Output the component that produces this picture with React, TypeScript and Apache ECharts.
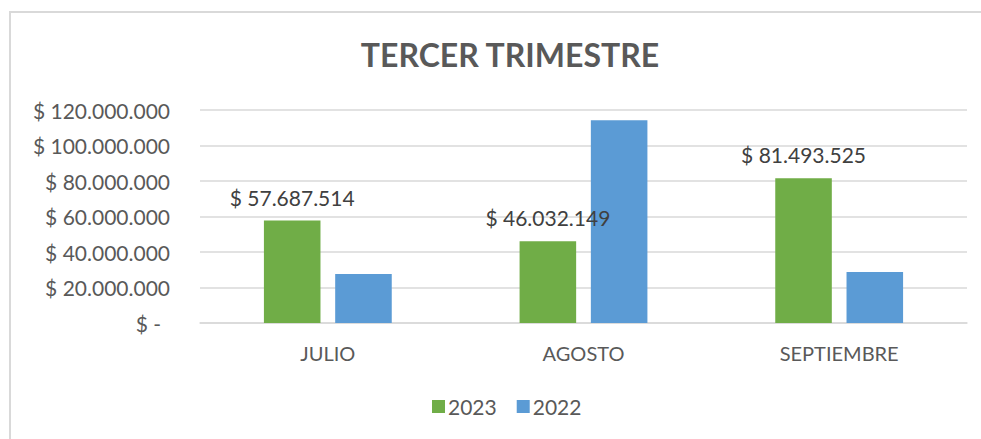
import React, { useEffect, useRef } from "react";
import * as echarts from "echarts";

const categories = ["JULIO", "AGOSTO", "SEPTIEMBRE"];
const values2023 = [57687514, 46032149, 81493525];
const values2022 = [27600000, 114200000, 28700000];
const seriesNames = ["2023", "2022"];

const FONT = "Lato, 'Open Sans', sans-serif";

function fmt(v: number): string {
  if (v === 0) return "{z|$ -}";
  const s = Math.round(v).toString().replace(/\B(?=(\d{3})+(?!\d))/g, ".");
  return "$ " + s;
}

export default function App() {
  const ref = useRef<HTMLDivElement>(null);
  useEffect(() => {
    if (!ref.current) return;
    const chart = echarts.init(ref.current, null, { renderer: "svg" });
    chart.setOption({
      animation: false,
      backgroundColor: "#ffffff",
      graphic: [
        {
          type: "rect",
          shape: { x: 10, y: 12, width: 1000, height: 440 },
          style: { fill: "none", stroke: "#d9d9d9", lineWidth: 2 },
          silent: true,
        },
      ],
      title: {
        text: "TERCER TRIMESTRE",
        left: 505,
        top: 33,
        textAlign: "center",
        textStyle: {
          fontFamily: FONT,
          fontWeight: "bold",
          fontSize: 32,
          color: "#595959",
        },
      },
      legend: {
        data: seriesNames,
        left: 432,
        top: 396,
        padding: 0,
        itemWidth: 13,
        itemHeight: 13,
        itemGap: 20,
        icon: "rect",
        textStyle: { fontFamily: FONT, fontSize: 21, color: "#595959", padding: [0, 0, 0, -2] },
      },
      grid: { left: 200, right: 14, top: 110, bottom: 116 },
      xAxis: {
        type: "category",
        data: categories,
        axisTick: { show: false },
        axisLine: { lineStyle: { color: "#d9d9d9", width: 1.5 } },
        axisLabel: { fontFamily: FONT, fontSize: 20, color: "#595959", margin: 20 },
      },
      yAxis: {
        type: "value",
        min: 0,
        max: 120000000,
        interval: 20000000,
        axisLine: { show: false },
        axisTick: { show: false },
        splitLine: { lineStyle: { color: "#d9d9d9", width: 1.5 } },
        axisLabel: {
          fontFamily: FONT,
          fontSize: 21,
          color: "#595959",
          margin: 30,
          formatter: (v: number) => fmt(v),
          rich: { z: { fontFamily: FONT, fontSize: 21, color: "#595959", padding: [0, 9, 0, 0] } },
        },
      },
      series: [
        {
          name: seriesNames[0],
          type: "bar",
          data: values2023,
          itemStyle: { color: "#70AD47" },
          barGap: "26%",
          barCategoryGap: "50%",
          label: {
            show: true,
            position: "top",
            distance: 13,
            fontFamily: FONT,
            fontSize: 21,
            color: "#404040",
            formatter: (p: any) => fmt(p.value),
          },
        },
        {
          name: seriesNames[1],
          type: "bar",
          data: values2022,
          itemStyle: { color: "#5B9BD5" },
          barGap: "26%",
          barCategoryGap: "50%",
        },
      ],
    });
    return () => chart.dispose();
  }, []);
  return (
    <div
      ref={ref}
      style={{ position: "fixed", left: 0, top: 0, width: 981, height: 439 }}
    />
  );
}
